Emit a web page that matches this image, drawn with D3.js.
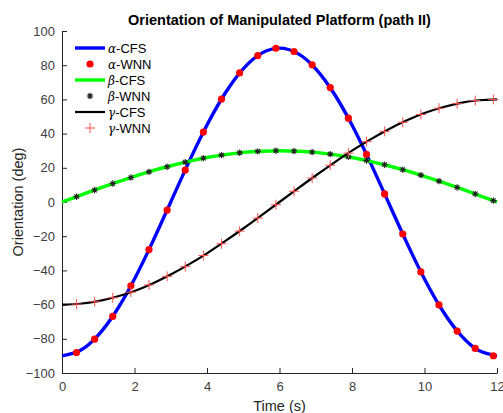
<!DOCTYPE html>
<html>
<head>
<meta charset="utf-8">
<script src="https://cdn.jsdelivr.net/npm/d3@7"></script>
<style>
  body { margin: 0; background: #fff; }
  svg { font-family: "Liberation Sans", Arial, sans-serif; }
</style>
</head>
<body>
<div id="chart"></div>
<script>
// Time samples for the CFS curves (every 0.5 s)
var lineTimes = [0, 0.5, 1, 1.5, 2, 2.5, 3, 3.5, 4, 4.5, 5, 5.5, 6, 6.5, 7, 7.5, 8, 8.5, 9, 9.5, 10, 10.5, 11, 11.5, 12];
var alphaCFS = [-90, -86.9, -77.9, -63.6, -45, -23.3, 0, 23.3, 45, 63.6, 77.9, 86.9, 90, 86.9, 77.9, 63.6, 45, 23.3, 0, -23.3, -45, -63.6, -77.9, -86.9, -90];
var betaCFS = [0, 3.9, 7.8, 11.5, 15, 18.3, 21.2, 23.8, 26, 27.7, 29, 29.7, 30, 29.7, 29, 27.7, 26, 23.8, 21.2, 18.3, 15, 11.5, 7.8, 3.9, 0];
var gammaCFS = [-60, -59.5, -58, -55.4, -52, -47.6, -42.4, -36.5, -30, -22.9, -15.5, -7.8, 0, 7.8, 15.5, 22.9, 30, 36.5, 42.4, 47.6, 52, 55.4, 58, 59.5, 60];

// WNN sample times and values
var wnnTimes = [0.4, 0.9, 1.4, 1.9, 2.4, 2.9, 3.4, 3.9, 4.4, 4.9, 5.4, 5.9, 6.4, 6.9, 7.4, 7.9, 8.4, 8.9, 9.4, 9.9, 10.4, 10.9, 11.4, 11.9];
var alphaWNN = [-88, -80.2, -66.9, -49, -27.8, -4.7, 18.7, 40.9, 60.2, 75.5, 85.6, 89.9, 88, 80.2, 66.9, 49, 27.8, 4.7, -18.7, -40.9, -60.2, -75.5, -85.6, -89.9];
var betaWNN = [3.1, 7.0, 10.8, 14.3, 17.6, 20.6, 23.3, 25.6, 27.4, 28.8, 29.6, 30.0, 29.8, 29.2, 28.0, 26.4, 24.3, 21.8, 18.9, 15.7, 12.2, 8.5, 4.7, 0.8];
var gammaWNN = [-59.7, -58.3, -56.0, -52.7, -48.5, -43.5, -37.8, -31.3, -24.4, -17.0, -9.4, -1.6, 6.3, 14.0, 21.5, 28.6, 35.3, 41.3, 46.6, 51.2, 54.8, 57.5, 59.3, 60.0];

var xTicks = [0, 2, 4, 6, 8, 10, 12];
var yTicks = [-100, -80, -60, -40, -20, 0, 20, 40, 60, 80, 100];
var legendLabels = [["\u03b1", "-CFS"], ["\u03b1", "-WNN"], ["\u03b2", "-CFS"], ["\u03b2", "-WNN"], ["\u03b3", "-CFS"], ["\u03b3", "-WNN"]];

var svgWidth = 503;
var svgHeight = 413;
var margin = { top: 31, right: 6, bottom: 40, left: 62 };
var width = svgWidth - margin.left - margin.right;
var height = svgHeight - margin.top - margin.bottom;

var svg = d3.select("#chart").append("svg")
  .attr("width", svgWidth)
  .attr("height", svgHeight);

var g = svg.append("g")
  .attr("transform", `translate(${margin.left}, ${margin.top})`);

var x = d3.scaleLinear().domain([0, 12]).range([0, width]);
var y = d3.scaleLinear().domain([-100, 100]).range([height, 0]);

var axisColor = "#262626";

// Axes (MATLAB style, ticks pointing in)
var xAxis = g.append("g")
  .attr("transform", `translate(0, ${height})`)
  .call(d3.axisBottom(x).tickValues(xTicks).tickSize(-5).tickPadding(9).tickSizeOuter(0));
var yAxis = g.append("g")
  .call(d3.axisLeft(y).tickValues(yTicks).tickSize(-5).tickPadding(7).tickSizeOuter(0));

[xAxis, yAxis].forEach(function(ax) {
  ax.select(".domain").attr("stroke", axisColor).attr("stroke-width", 1);
  ax.selectAll(".tick line").attr("stroke", axisColor).attr("stroke-width", 1);
  ax.selectAll(".tick text")
    .attr("fill", "#404040")
    .style("font-size", "13px")
    .style("font-family", "'Liberation Sans', Arial, sans-serif");
});

function line(times, vals) {
  return d3.line()
    .x(function(d, i) { return x(times[i]); })
    .y(function(d) { return y(d); })
    .curve(d3.curveNatural)(vals);
}

function crossPath(s) {
  return `M${-s},0H${s}M0,${-s}V${s}`;
}
function starPath(s) {
  var d = crossPath(s);
  var k = s * 0.7;
  return d + `M${-k},${-k}L${k},${k}M${-k},${k}L${k},${-k}`;
}

// alpha
g.append("path").attr("d", line(lineTimes, alphaCFS))
  .attr("fill", "none").attr("stroke", "#0000ff").attr("stroke-width", 3.4);
g.selectAll(".aw").data(alphaWNN).enter().append("circle")
  .attr("cx", function(d, i) { return x(wnnTimes[i]); })
  .attr("cy", function(d) { return y(d); })
  .attr("r", 3.6)
  .attr("fill", "#ff0000");

// beta
g.append("path").attr("d", line(lineTimes, betaCFS))
  .attr("fill", "none").attr("stroke", "#00ff00").attr("stroke-width", 3.4);
g.selectAll(".bw").data(betaWNN).enter().append("path")
  .attr("transform", function(d, i) { return `translate(${x(wnnTimes[i])}, ${y(d)})`; })
  .attr("d", starPath(3.2))
  .attr("fill", "none")
  .attr("stroke", "#222")
  .attr("stroke-width", 1.1);

// gamma
g.append("path").attr("d", line(lineTimes, gammaCFS))
  .attr("fill", "none").attr("stroke", "#000000").attr("stroke-width", 2.2);
g.selectAll(".gw").data(gammaWNN).enter().append("path")
  .attr("transform", function(d, i) { return `translate(${x(wnnTimes[i])}, ${y(d)})`; })
  .attr("d", crossPath(5))
  .attr("fill", "none")
  .attr("stroke", "#ff5050")
  .attr("stroke-width", 1);

// Legend
var legend = svg.append("g").attr("transform", "translate(75, 48)");
legendLabels.forEach(function(lab, i) {
  var row = legend.append("g").attr("transform", `translate(0, ${i * 16})`);
  if (i === 0) row.append("line").attr("x1", 0).attr("x2", 30).attr("stroke", "#0000ff").attr("stroke-width", 3.4);
  if (i === 1) row.append("circle").attr("cx", 15).attr("r", 3.6).attr("fill", "#ff0000");
  if (i === 2) row.append("line").attr("x1", 0).attr("x2", 30).attr("stroke", "#00ff00").attr("stroke-width", 3.4);
  if (i === 3) row.append("path").attr("transform", "translate(15,0)").attr("d", starPath(3.2)).attr("stroke", "#222").attr("stroke-width", 1.1);
  if (i === 4) row.append("line").attr("x1", 0).attr("x2", 30).attr("stroke", "#000").attr("stroke-width", 2.2);
  if (i === 5) row.append("path").attr("transform", "translate(15,0)").attr("d", crossPath(5)).attr("stroke", "#ff5050").attr("stroke-width", 1);
  var t = row.append("text")
    .attr("x", 33)
    .attr("dy", "0.35em")
    .style("font-size", "13px")
    .attr("fill", "#000");
  t.append("tspan").style("font-family", "'DejaVu Serif', serif").style("font-style", "italic").style("font-size", "12px").text(lab[0]);
  t.append("tspan").text(lab[1]);
});

// Title and axis labels
svg.append("text")
  .attr("x", margin.left + width / 2)
  .attr("y", 25)
  .attr("text-anchor", "middle")
  .style("font-size", "14.5px")
  .style("font-weight", "bold")
  .attr("fill", "#000")
  .text("Orientation of Manipulated Platform (path II)");

svg.append("text")
  .attr("x", margin.left + width / 2)
  .attr("y", 411)
  .attr("text-anchor", "middle")
  .style("font-size", "14.5px")
  .attr("fill", "#262626")
  .text("Time (s)");

svg.append("text")
  .attr("transform", `translate(23, ${margin.top + height / 2}) rotate(-90)`)
  .attr("text-anchor", "middle")
  .style("font-size", "14.5px")
  .attr("fill", "#262626")
  .text("Orientation (deg)");
</script>
</body>
</html>
